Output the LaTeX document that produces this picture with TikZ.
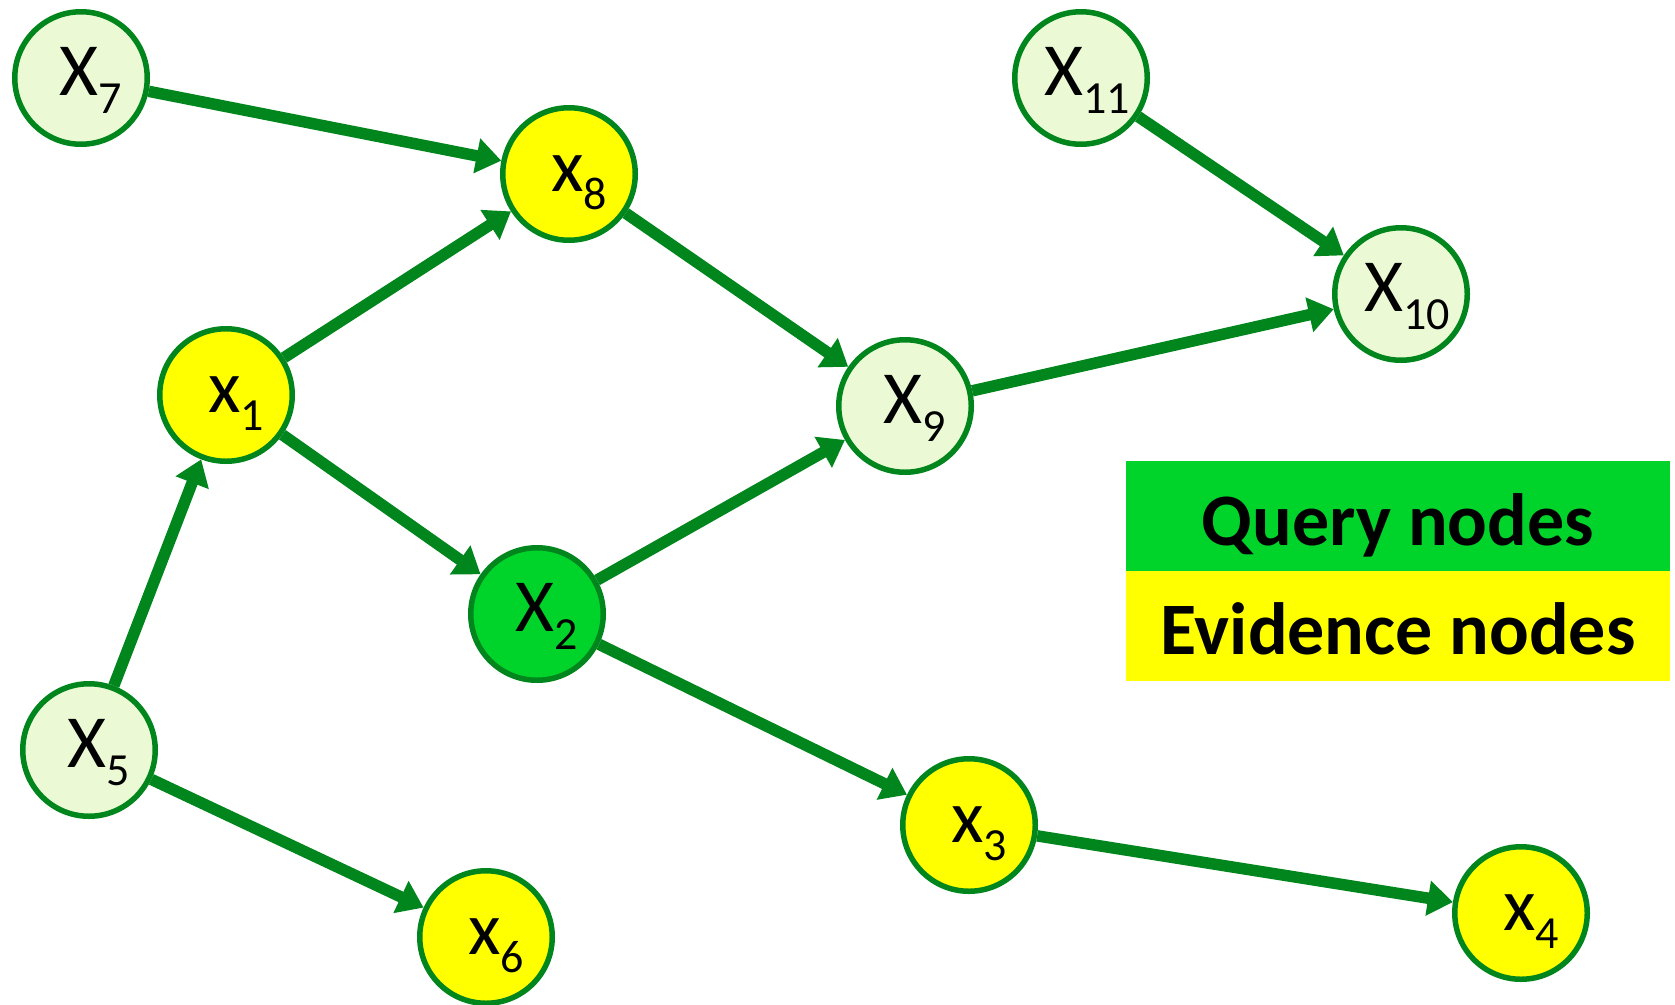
\documentclass[tikz,border=0pt]{standalone}
\usepackage{fontspec}
\setmainfont{Carlito}
\usetikzlibrary{arrows.meta}

\definecolor{edgegreen}{RGB}{0,134,28}
\definecolor{palegreen}{RGB}{235,250,212}
\definecolor{querygreen}{RGB}{0,212,42}
\definecolor{evidyellow}{RGB}{255,255,0}

% variable name with a lowered subscript; the optional argument pads the
% left side so the whole label sits a little right of the centre
\newcommand{\varname}[3][20pt]{\hspace*{#1}#2\smash{\raisebox{-18pt}{\fontsize{46}{46}\selectfont #3}}}

\tikzset{
  var/.style={circle, draw=edgegreen, line width=5.5pt, minimum size=132.5pt,
    inner sep=0pt, text height=40pt, text depth=6pt,
    font=\fontsize{75}{75}\selectfont},
  hidden/.style={var, fill=palegreen},
  query/.style={var, fill=querygreen},
  evidence/.style={var, fill=evidyellow},
  link/.style={draw=edgegreen, line width=11.5pt,
    -{Triangle[length=25pt,width=34pt]}},
  keybox/.style={rectangle, draw=none, inner sep=0pt, anchor=north west,
    minimum width=544pt, minimum height=110pt},
  keytext/.style={anchor=base, inner sep=0pt,
    font=\fontsize{74}{74}\selectfont\bfseries},
}

\begin{document}
\begin{tikzpicture}[x=1pt, y=-1pt]
\useasboundingbox (0,0) rectangle (1675,1004);

% network nodes
\node[hidden]   (x7)  at (81,78)    {\varname{X}{7}};
\node[evidence] (x8)  at (569,174)  {\varname{x}{8}};
\node[hidden]   (x11) at (1081,78)  {\varname[12pt]{X}{11}};
\node[hidden]   (x10) at (1401,294) {\varname[12pt]{X}{10}};
\node[evidence] (x1)  at (226,395)  {\varname{x}{1}};
\node[hidden]   (x9)  at (905,406)  {\varname{X}{9}};
\node[query]    (x2)  at (537,614)  {\varname{X}{2}};
\node[hidden]   (x5)  at (89,750)   {\varname{X}{5}};
\node[evidence] (x6)  at (486,937)  {\varname{x}{6}};
\node[evidence] (x3)  at (969,825)  {\varname{x}{3}};
\node[evidence] (x4)  at (1521,913) {\varname{x}{4}};

% directed edges
\draw[link] (x7)  -- (x8);
\draw[link] (x1)  -- (x8);
\draw[link] (x8)  -- (x9);
\draw[link] (x1)  -- (x2);
\draw[link] (x5)  -- (x1);
\draw[link] (x2)  -- (x9);
\draw[link] (x9)  -- (x10);
\draw[link] (x11) -- (x10);
\draw[link] (x2)  -- (x3);
\draw[link] (x3)  -- (x4);
\draw[link] (x5)  -- (x6);

% key
\node[keybox, fill=querygreen] (qbox) at (1126,461) {};
\node[keybox, fill=evidyellow] (ebox) at (1126,571) {};
\node[keytext] (qtext) at (1398,545) {Query nodes};
\node[keytext] (etext) at (1398,654) {Evidence nodes};
\end{tikzpicture}
\end{document}
